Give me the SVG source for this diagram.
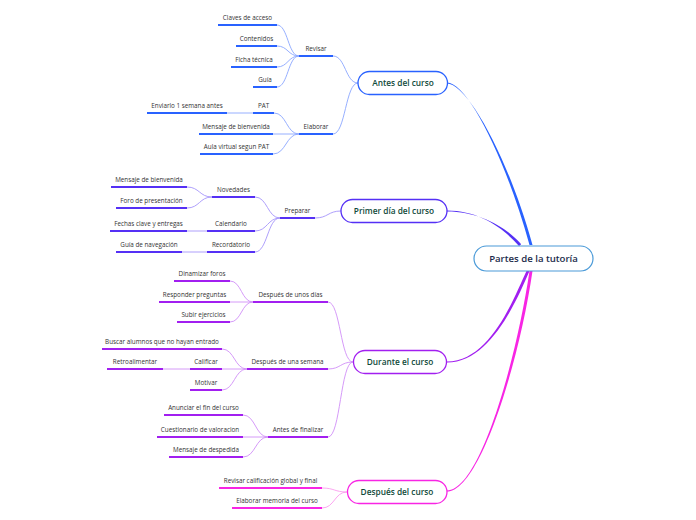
<svg xmlns="http://www.w3.org/2000/svg" width="696" height="520" viewBox="0 0 696 520">
<style>
text{font-family:"Open Sans","Noto Sans","DejaVu Sans",sans-serif;}
.lbl{font-size:6.3px;fill:#333;text-anchor:middle;}
.main{font-size:8.3px;font-weight:600;fill:#0f4a3a;text-anchor:middle;}
.root{font-size:9.6px;font-weight:600;fill:#1b2b4b;text-anchor:middle;}
.ul{stroke-width:2;fill:none;stroke-linecap:butt;}
.c{fill:none;stroke-width:0.9;}
.box{fill:#fff;stroke-width:1.3;}
.b .ul{stroke:#2962ff}.b .box{stroke:#2962ff}
.i .ul{stroke:#5530f5}.i .box{stroke:#5530f5}
.v .ul{stroke:#a21ff0}.v .box{stroke:#a21ff0}
.m .ul{stroke:#f825e4}.m .box{stroke:#f825e4}
.cb{stroke:#8aa6ff}.ci{stroke:#a594fb}.cv{stroke:#d08ff7}.cm{stroke:#fa9bee}
</style>
<rect width="696" height="520" fill="#fff"/>
<g id="connectors">
  <path d="M447,82.5 C467,82.5 504.5,155 529.5,245 L532.5,245 C507.5,155 467,83.5 447,83.5 Z" fill="#2962ff"/>
  <path d="M447,210.5 C480,210.5 504,228.8 519,246 L521.2,244.2 C506,227.2 480,211.5 447,211.5 Z" fill="#5530f5"/>
  <path d="M529.5,271 C516.5,301 490,362.5 447,362.5 L447,361.5 C490,361.5 513.5,299 526.5,271 Z" fill="#a21ff0"/>
  <path d="M532.5,271 C519.5,361 480,491.5 447,491.5 L447,490.5 C480,490.5 516.5,359 529.5,271 Z" fill="#f825e4"/>
  <g class="c cb">
    <path d="M333,56 C345.5,56 345.5,83 358,83"/>
    <path d="M333,134 C345.5,134 345.5,83 358,83"/>
    <path d="M277,25 C288,25 288,56 299,56"/>
    <path d="M277,46 C288,46 288,56 299,56"/>
    <path d="M277,67 C288,67 288,56 299,56"/>
    <path d="M277,87 C288,87 288,56 299,56"/>
    <path d="M274,113 C286.5,113 286.5,134 299,134"/>
    <path d="M227,113 L253,113"/>
    <path d="M273,134 L299,134"/>
    <path d="M273,154 C286,154 286,134 299,134"/>
  </g>
  <g class="c ci">
    <path d="M315,218 C328,218 328,211 341,211"/>
    <path d="M255,197 C267.5,197 267.5,218 280,218"/>
    <path d="M255,231 C267.5,231 267.5,218 280,218"/>
    <path d="M255,252 C267.5,252 267.5,218 280,218"/>
    <path d="M187,187 C199.5,187 199.5,197 212,197"/>
    <path d="M187,208 C199.5,208 199.5,197 212,197"/>
    <path d="M187,231 L207,231"/>
    <path d="M182,252 L207,252"/>
  </g>
  <g class="c cv">
    <path d="M328,302 C340.5,302 340.5,362 353,362"/>
    <path d="M328,369 C340.5,369 340.5,362 353,362"/>
    <path d="M328,437 C340.5,437 340.5,362 353,362"/>
    <path d="M230,281 C241.5,281 241.5,302 253,302"/>
    <path d="M230,302 L253,302"/>
    <path d="M230,322 C241.5,322 241.5,302 253,302"/>
    <path d="M222,349 C234.5,349 234.5,369 247,369"/>
    <path d="M222,369 L247,369"/>
    <path d="M163,369 L190,369"/>
    <path d="M222,390 C234.5,390 234.5,369 247,369"/>
    <path d="M243,415 C255.5,415 255.5,437 268,437"/>
    <path d="M243,437 L268,437"/>
    <path d="M243,457 C255.5,457 255.5,437 268,437"/>
  </g>
  <g class="c cm">
    <path d="M322,488 C334.5,488 334.5,492 347,492"/>
    <path d="M322,508 C334.5,508 334.5,492 347,492"/>
  </g>
</g>
<g id="root">
  <rect x="474" y="246" width="119" height="25" rx="12.5" fill="#fff" stroke="#4a9ad8" stroke-width="1.2"/>
  <text class="root" x="533.5" y="262">Partes de la tutoría</text>
</g>
<g class="b">
  <g id="antes"><rect class="box" x="358" y="71.5" width="89.5" height="23" rx="11.5"/><text class="main" x="403" y="86">Antes del curso</text></g>
  <g id="revisar"><path class="ul" d="M299,56H333"/><text class="lbl" x="316" y="51">Revisar</text></g>
  <g id="claves"><path class="ul" d="M218,25H277"/><text class="lbl" x="247.5" y="20">Claves de acceso</text></g>
  <g id="contenidos"><path class="ul" d="M236,46H277"/><text class="lbl" x="256.5" y="41">Contenidos</text></g>
  <g id="ficha"><path class="ul" d="M231,67H277"/><text class="lbl" x="254" y="62">Ficha técnica</text></g>
  <g id="guia"><path class="ul" d="M253,87H277"/><text class="lbl" x="265" y="82">Guía</text></g>
  <g id="elaborar"><path class="ul" d="M299,134H333"/><text class="lbl" x="316" y="129">Elaborar</text></g>
  <g id="pat"><path class="ul" d="M253,113H274"/><text class="lbl" x="263.5" y="108">PAT</text></g>
  <g id="enviarlo"><path class="ul" d="M147,113H227"/><text class="lbl" x="187" y="108">Enviarlo 1 semana antes</text></g>
  <g id="mensaje1"><path class="ul" d="M199,134H273"/><text class="lbl" x="236" y="129">Mensaje de bienvenida</text></g>
  <g id="aula"><path class="ul" d="M200,154H273"/><text class="lbl" x="236.5" y="149">Aula virtual segun PAT</text></g>
</g>
<g class="i">
  <g id="primer"><rect class="box" x="341" y="199.5" width="106" height="23" rx="11.5"/><text class="main" x="394" y="214">Primer día del curso</text></g>
  <g id="preparar"><path class="ul" d="M280,218H315"/><text class="lbl" x="297.5" y="213">Preparar</text></g>
  <g id="novedades"><path class="ul" d="M212,197H255"/><text class="lbl" x="233.5" y="192">Novedades</text></g>
  <g id="mensaje2"><path class="ul" d="M111,187H187"/><text class="lbl" x="149" y="182">Mensaje de bienvenida</text></g>
  <g id="foro"><path class="ul" d="M116,208H187"/><text class="lbl" x="151.5" y="203">Foro de presentación</text></g>
  <g id="calendario"><path class="ul" d="M207,231H255"/><text class="lbl" x="231" y="226">Calendario</text></g>
  <g id="fechas"><path class="ul" d="M110,231H187"/><text class="lbl" x="148.5" y="226">Fechas clave y entregas</text></g>
  <g id="recordatorio"><path class="ul" d="M207,252H255"/><text class="lbl" x="231" y="247">Recordatorio</text></g>
  <g id="guianav"><path class="ul" d="M116,252H182"/><text class="lbl" x="149" y="247">Guía de navegación</text></g>
</g>
<g class="v">
  <g id="durante"><rect class="box" x="353.5" y="350.5" width="93" height="23" rx="11.5"/><text class="main" x="400" y="365">Durante el curso</text></g>
  <g id="unosdias"><path class="ul" d="M253,302H328"/><text class="lbl" x="290.5" y="297">Después de unos días</text></g>
  <g id="dinamizar"><path class="ul" d="M174,281H230"/><text class="lbl" x="202" y="276">Dinamizar foros</text></g>
  <g id="responder"><path class="ul" d="M159,302H230"/><text class="lbl" x="194.5" y="297">Responder preguntas</text></g>
  <g id="subir"><path class="ul" d="M177,322H230"/><text class="lbl" x="203.5" y="317">Subir ejercicios</text></g>
  <g id="unasemana"><path class="ul" d="M247,369H328"/><text class="lbl" x="287.5" y="364">Después de una semana</text></g>
  <g id="buscar"><path class="ul" d="M102,349H222"/><text class="lbl" x="162" y="344">Buscar alumnos que no hayan entrado</text></g>
  <g id="calificar"><path class="ul" d="M190,369H222"/><text class="lbl" x="206" y="364">Calificar</text></g>
  <g id="retro"><path class="ul" d="M107,369H163"/><text class="lbl" x="135" y="364">Retroalimentar</text></g>
  <g id="motivar"><path class="ul" d="M190,390H222"/><text class="lbl" x="206" y="385">Motivar</text></g>
  <g id="finalizar"><path class="ul" d="M268,437H328"/><text class="lbl" x="298" y="432">Antes de finalizar</text></g>
  <g id="anunciar"><path class="ul" d="M164,415H243"/><text class="lbl" x="203.5" y="410">Anunciar el fin del curso</text></g>
  <g id="cuestionario"><path class="ul" d="M157,437H243"/><text class="lbl" x="200" y="432">Cuestionario de valoracion</text></g>
  <g id="despedida"><path class="ul" d="M169,457H243"/><text class="lbl" x="206" y="452">Mensaje de despedida</text></g>
</g>
<g class="m">
  <g id="despues"><rect class="box" x="347.5" y="480.5" width="99.5" height="23" rx="11.5"/><text class="main" x="397" y="495">Después del curso</text></g>
  <g id="calfinal"><path class="ul" d="M219,488H322"/><text class="lbl" x="270.5" y="483">Revisar calificación global y final</text></g>
  <g id="memoria"><path class="ul" d="M232,508H322"/><text class="lbl" x="277" y="503">Elaborar memoria del curso</text></g>
</g>
</svg>
